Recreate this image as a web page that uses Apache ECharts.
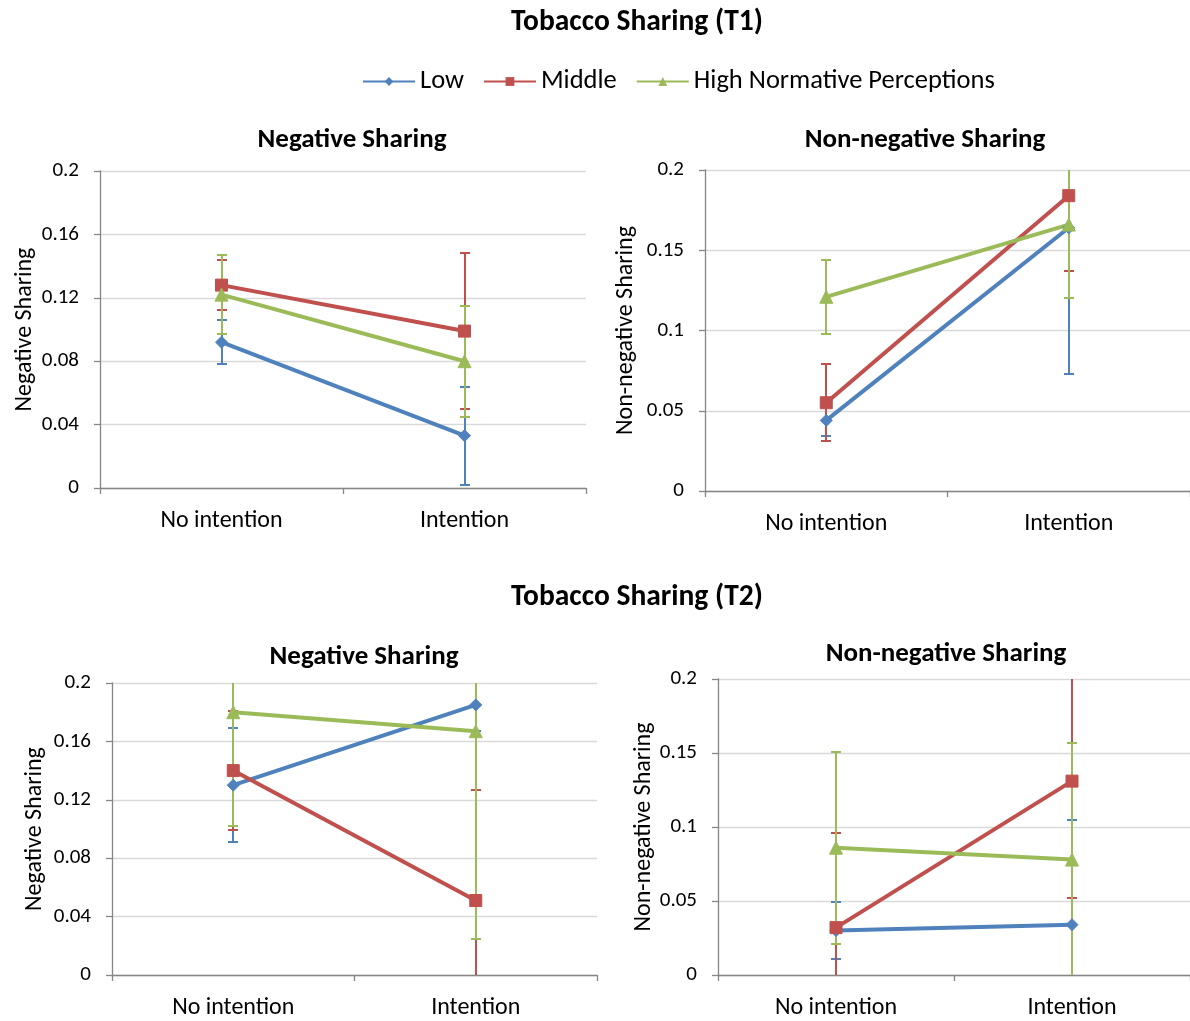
<!DOCTYPE html>
<html>
<head>
<meta charset="utf-8">
<script src="https://cdn.jsdelivr.net/npm/echarts@6/dist/echarts.min.js"></script>
<style>
  html, body { margin: 0; padding: 0; background: #fff; }
  #chart { width: 1190px; height: 1021px; }
</style>
</head>
<body>
<div id="chart"></div>
<script>
// Categories shared by every panel
const categories = ['No intention', 'Intention'];
const seriesNames = ['Low', 'Middle', 'High Normative Perceptions'];

// T1 - Negative Sharing (means and error half-widths)
const t1NegLow = [0.092, 0.033];
const t1NegMid = [0.128, 0.099];
const t1NegHigh = [0.122, 0.080];
const t1NegLowErr = [0.014, 0.031];
const t1NegMidErr = [0.016, 0.049];
const t1NegHighErr = [0.025, 0.035];

// T1 - Non-negative Sharing
const t1NonLow = [0.044, 0.164];
const t1NonMid = [0.055, 0.184];
const t1NonHigh = [0.121, 0.166];
const t1NonLowErr = [0.010, 0.091];
const t1NonMidErr = [0.024, 0.047];
const t1NonHighErr = [0.023, 0.046];

// T2 - Negative Sharing
const t2NegLow = [0.130, 0.185];
const t2NegMid = [0.140, 0.051];
const t2NegHigh = [0.180, 0.167];
const t2NegLowErr = [0.039, 0.018];
const t2NegMidErr = [0.041, 0.076];
const t2NegHighErr = [0.078, 0.142];

// T2 - Non-negative Sharing
const t2NonLow = [0.030, 0.034];
const t2NonMid = [0.032, 0.131];
const t2NonHigh = [0.086, 0.078];
const t2NonLowErr = [0.019, 0.071];
const t2NonMidErr = [0.064, 0.079];
const t2NonHighErr = [0.065, 0.079];

// Axis ranges
const yMin = 0, yMax = 0.2;
const negInterval = 0.04;
const nonInterval = 0.05;

const FONT = 'Carlito, Lato, "Liberation Sans", sans-serif';
const colors = ['#4F81BD', '#C0504D', '#9BBB59'];
const symbols = ['diamond', 'rect', 'triangle'];
const symbolSizes = [12, 12, 13];

const panels = [
  { title: 'Negative Sharing', yName: 'Negative Sharing', interval: negInterval,
    means: [t1NegLow, t1NegMid, t1NegHigh], errs: [t1NegLowErr, t1NegMidErr, t1NegHighErr],
    grid: { left: 100, width: 486, top: 171, height: 317 }, titlePos: { x: 352, y: 140 }, nameGap: 63 },
  { title: 'Non-negative Sharing', yName: 'Non-negative Sharing', interval: nonInterval,
    means: [t1NonLow, t1NonMid, t1NonHigh], errs: [t1NonLowErr, t1NonMidErr, t1NonHighErr],
    grid: { left: 705, width: 485, top: 170, height: 321 }, titlePos: { x: 925, y: 140 }, nameGap: 67 },
  { title: 'Negative Sharing', yName: 'Negative Sharing', interval: negInterval,
    means: [t2NegLow, t2NegMid, t2NegHigh], errs: [t2NegLowErr, t2NegMidErr, t2NegHighErr],
    grid: { left: 112, width: 485, top: 683, height: 292 }, titlePos: { x: 364, y: 657 }, nameGap: 65 },
  { title: 'Non-negative Sharing', yName: 'Non-negative Sharing', interval: nonInterval,
    means: [t2NonLow, t2NonMid, t2NonHigh], errs: [t2NonLowErr, t2NonMidErr, t2NonHighErr],
    grid: { left: 718, width: 472, top: 679, height: 296 }, titlePos: { x: 946, y: 654 }, nameGap: 61 }
];

// Vertical error bar with caps, clipped to the value axis range
function errorBarItem(params, api) {
  const x = api.value(0);
  const mean = api.value(1);
  const err = api.value(2);
  const hi = mean + err, lo = mean - err;
  const top = api.coord([x, Math.min(hi, yMax)]);
  const bot = api.coord([x, Math.max(lo, yMin)]);
  const px = Math.round(top[0]);
  const ty = Math.round(top[1]), by = Math.round(bot[1]);
  const style = { stroke: api.visual('color'), lineWidth: 2 };
  const half = 5;
  const children = [{ type: 'line', shape: { x1: px, y1: ty, x2: px, y2: by }, style }];
  if (hi <= yMax) children.push({ type: 'line', shape: { x1: px - half, y1: ty, x2: px + half, y2: ty }, style });
  if (lo >= yMin) children.push({ type: 'line', shape: { x1: px - half, y1: by, x2: px + half, y2: by }, style });
  return { type: 'group', children };
}

const grids = [], xAxes = [], yAxes = [], series = [];
const titles = [
  { text: 'Tobacco Sharing (T1)', left: 637, top: 23, padding: 0, textAlign: 'center', textVerticalAlign: 'middle',
    textStyle: { fontFamily: FONT, fontSize: 29.5, fontWeight: 'bold', color: '#000' } },
  { text: 'Tobacco Sharing (T2)', left: 637, top: 598, padding: 0, textAlign: 'center', textVerticalAlign: 'middle',
    textStyle: { fontFamily: FONT, fontSize: 29.5, fontWeight: 'bold', color: '#000' } }
];

panels.forEach((p, i) => {
  grids.push(Object.assign({ containLabel: false }, p.grid));
  titles.push({ text: p.title, left: p.titlePos.x, top: p.titlePos.y, padding: 0, textAlign: 'center', textVerticalAlign: 'middle',
    textStyle: { fontFamily: FONT, fontSize: 27, fontWeight: 'bold', color: '#000' } });
  xAxes.push({
    type: 'category', gridIndex: i, data: categories, boundaryGap: true,
    axisLine: { lineStyle: { color: '#868686', width: 1.3 } },
    axisTick: { show: true, length: 6, lineStyle: { color: '#868686', width: 1.3 } },
    axisLabel: { margin: 21, fontFamily: FONT, fontSize: 24, color: '#000' },
    splitLine: { show: false }
  });
  yAxes.push({
    type: 'value', gridIndex: i, min: yMin, max: yMax, interval: p.interval,
    name: p.yName, nameLocation: 'middle', nameRotate: 90, nameGap: p.nameGap,
    nameTextStyle: { fontFamily: FONT, fontSize: 24, color: '#000' },
    axisLine: { show: true, lineStyle: { color: '#868686', width: 1.3 } },
    axisTick: { show: true, length: 6, lineStyle: { color: '#868686', width: 1.3 } },
    axisLabel: { margin: 21, fontFamily: FONT, fontSize: 21, color: '#000' },
    splitLine: { lineStyle: { color: '#D9D9D9', width: 1.3 } }
  });
  for (let s = 0; s < 3; s++) {
    series.push({
      name: seriesNames[s] + ' error', type: 'custom', xAxisIndex: i, yAxisIndex: i,
      renderItem: errorBarItem, z: 2, silent: true,
      itemStyle: { color: colors[s] },
      data: categories.map((c, k) => [k, p.means[s][k], p.errs[s][k]])
    });
  }
  for (let s = 0; s < 3; s++) {
    series.push({
      name: seriesNames[s], type: 'line', xAxisIndex: i, yAxisIndex: i, z: 3,
      data: p.means[s], symbol: symbols[s], symbolSize: symbolSizes[s],
      lineStyle: { color: colors[s], width: 4 },
      itemStyle: { color: colors[s], borderColor: colors[s] },
      animation: false
    });
  }
});

const chart = echarts.init(document.getElementById('chart'), null, { renderer: 'canvas' });
chart.setOption({
  backgroundColor: '#fff',
  animation: false,
  color: colors,
  title: titles,
  legend: {
    data: seriesNames, left: 357, top: 63, itemWidth: 52, itemHeight: 11, itemGap: 19,
    textStyle: { fontFamily: FONT, fontSize: 26.5, color: '#000' }
  },
  grid: grids,
  xAxis: xAxes,
  yAxis: yAxes,
  series: series
});
</script>
</body>
</html>
